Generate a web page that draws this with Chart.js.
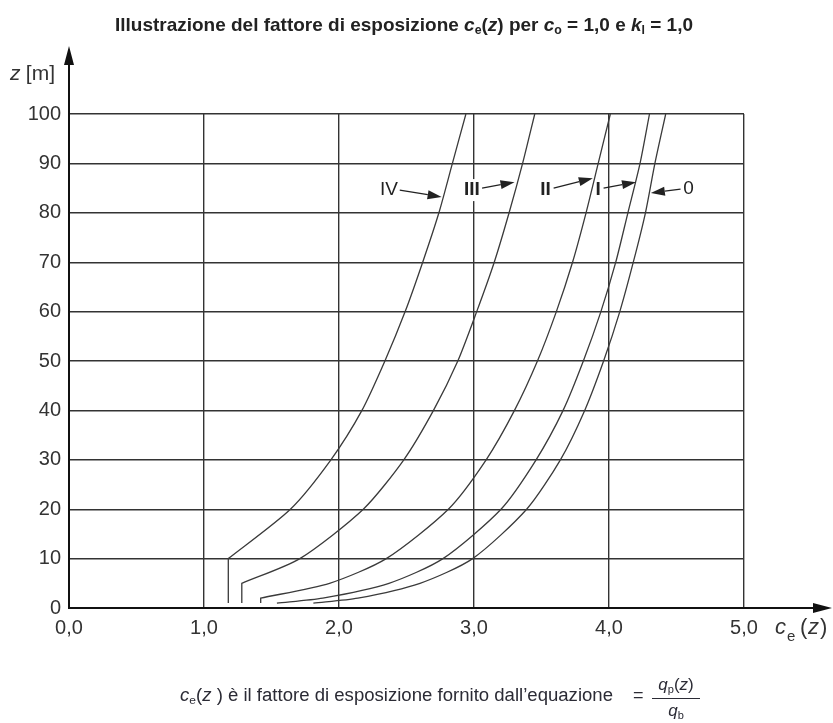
<!DOCTYPE html>
<html>
<head>
<meta charset="utf-8">
<script src="https://cdn.jsdelivr.net/npm/chart.js@4.4.1/dist/chart.umd.min.js"></script>
<style>
  body { margin: 0; background: #fff; }
  #wrap { position: relative; width: 833px; height: 723px; overflow: hidden; }
  #chart { position: absolute; left: 0; top: 0; }
  .txt { position: absolute; white-space: nowrap; color: #222; font-family: "Liberation Sans", Arial, sans-serif; transform-origin: 0 0; }
  #title { left: 115px; top: 13px; font-size: 19px; line-height: 24px; font-weight: bold; }
  #footer { left: 180px; top: 684px; font-size: 18px; line-height: 22px; color: #2b2b35; }
  #eq { left: 633px; top: 684px; font-size: 18px; line-height: 22px; color: #2b2b35; }
  #frac { left: 652px; top: 672px; width: 48px; font-size: 17px; color: #2b2b35; text-align: center; }
  #frac .num { height: 26px; line-height: 26px; border-bottom: 1px solid #2b2b35; }
  #frac .den { line-height: 24px; }
  sub { font-size: 65%; vertical-align: -0.25em; line-height: 0; }
  i { font-style: italic; }
</style>
</head>
<body>
<div id="wrap">
  <canvas id="chart" width="833" height="723"></canvas>
  <div class="txt" id="title">Illustrazione del fattore di esposizione <i>c</i><sub>e</sub>(<i>z</i>) per <i>c</i><sub>o</sub> = 1,0 e <i>k</i><sub>l</sub> = 1,0</div>
  <div class="txt" id="footer"><i>c</i><sub>e</sub>(<i>z</i> ) è il fattore di esposizione fornito dall’equazione</div>
  <div class="txt" id="eq">=</div>
  <div class="txt" id="frac"><div class="num"><i>q</i><sub>p</sub>(<i>z</i>)</div><div class="den"><i>q</i><sub>b</sub></div></div>
</div>
<script>
// terrain categories, heights z [m] and exposure factor ce(z)
const categories = ['0', 'I', 'II', 'III', 'IV'];

const z0 = [1, 2, 5, 10, 20, 30, 40, 50, 60, 70, 80, 90, 100];
const ce0 = [1.81, 2.14, 2.60, 2.99, 3.39, 3.64, 3.82, 3.96, 4.08, 4.18, 4.27, 4.34, 4.42];

const zI = [1, 2, 5, 10, 20, 30, 40, 50, 60, 70, 80, 90, 100];
const ceI = [1.54, 1.88, 2.37, 2.77, 3.20, 3.46, 3.66, 3.81, 3.94, 4.05, 4.14, 4.23, 4.30];

// the first point pair is the vertical part below z_min (corner repeated)
const zII = [1, 2, 2, 5, 10, 20, 30, 40, 50, 60, 70, 80, 90, 100];
const ceII = [1.42, 1.42, 1.42, 1.93, 2.35, 2.81, 3.09, 3.30, 3.47, 3.61, 3.73, 3.83, 3.92, 4.01];

const zIII = [1, 5, 5, 10, 20, 30, 40, 50, 60, 70, 80, 90, 100];
const ceIII = [1.28, 1.28, 1.28, 1.71, 2.18, 2.48, 2.70, 2.88, 3.02, 3.15, 3.26, 3.36, 3.45];

const zIV = [1, 10, 10, 20, 30, 40, 50, 60, 70, 80, 90, 100];
const ceIV = [1.18, 1.18, 1.18, 1.64, 1.94, 2.17, 2.34, 2.49, 2.62, 2.74, 2.84, 2.94];

const xTicks = [0, 1, 2, 3, 4, 5];
const yTicks = [0, 10, 20, 30, 40, 50, 60, 70, 80, 90, 100];

// curve labels with their arrows (data units: ce, z)
const labelPos = [[4.59, 84.8], [3.92, 84.6], [3.53, 84.6], [2.985, 84.6], [2.37, 84.6]];
const arrowFrom = [[4.53, 84.8], [3.96, 85.0], [3.59, 85.0], [3.06, 85.0], [2.45, 84.6]];
const arrowTo = [[4.31, 84.0], [4.20, 86.2], [3.88, 87.0], [3.30, 86.2], [2.76, 83.2]];

const seriesZ = [z0, zI, zII, zIII, zIV];
const seriesCe = [ce0, ceI, ceII, ceIII, ceIV];

// squeeze the narrow-font texts to the width they have in the figure
function fitWidth(id, w) {
  const el = document.getElementById(id);
  el.style.transform = 'scaleX(' + (w / el.getBoundingClientRect().width) + ')';
}
fitWidth('title', 578);
fitWidth('footer', 433);

const datasets = categories.map((name, i) => ({
  label: name,
  data: seriesZ[i].map((z, k) => ({ x: seriesCe[i][k], y: z })),
  showLine: true,
  borderColor: '#3a3a3a',
  borderWidth: 1.3,
  pointRadius: 0,
  tension: 0.25,
  fill: false
}));

const axisExtras = {
  id: 'axisExtras',
  afterDraw(chart) {
    const ctx = chart.ctx;
    const a = chart.chartArea;
    const x = chart.scales.x;
    const y = chart.scales.y;
    ctx.save();

    // axis arrows
    ctx.strokeStyle = '#111';
    ctx.fillStyle = '#111';
    ctx.lineWidth = 2;
    const topTip = a.top - 68;
    const rightTip = a.right + 88;
    ctx.beginPath();
    ctx.moveTo(a.left, a.top);
    ctx.lineTo(a.left, topTip + 12);
    ctx.moveTo(a.right, a.bottom);
    ctx.lineTo(rightTip - 12, a.bottom);
    ctx.stroke();
    ctx.beginPath();
    ctx.moveTo(a.left, topTip);
    ctx.lineTo(a.left - 5, topTip + 19);
    ctx.lineTo(a.left + 5, topTip + 19);
    ctx.closePath();
    ctx.moveTo(rightTip, a.bottom);
    ctx.lineTo(rightTip - 19, a.bottom - 5);
    ctx.lineTo(rightTip - 19, a.bottom + 5);
    ctx.closePath();
    ctx.fill();

    // axis titles
    ctx.fillStyle = '#333';
    ctx.textBaseline = 'alphabetic';
    ctx.textAlign = 'left';
    ctx.font = 'italic 21px "Liberation Sans", sans-serif';
    ctx.fillText('z', 10, 80);
    ctx.font = '21px "Liberation Sans", sans-serif';
    ctx.fillText(' [m]', 20, 80);

    ctx.font = 'italic 22px "Liberation Sans", sans-serif';
    ctx.fillText('c', 775, 634);
    ctx.font = '15px "Liberation Sans", sans-serif';
    ctx.fillText('e', 787, 641);
    ctx.font = '22px "Liberation Sans", sans-serif';
    ctx.fillText('(', 800, 634);
    ctx.font = 'italic 22px "Liberation Sans", sans-serif';
    ctx.fillText('z', 808, 634);
    ctx.font = '22px "Liberation Sans", sans-serif';
    ctx.fillText(')', 820, 634);

    // curve labels and arrows
    ctx.textAlign = 'center';
    ctx.textBaseline = 'middle';
    categories.forEach((name, i) => {
      ctx.font = (name.startsWith('I') && name !== 'IV' ? 'bold ' : '') + '19px "Liberation Sans", sans-serif';
      const lx = x.getPixelForValue(labelPos[i][0]);
      const ly = y.getPixelForValue(labelPos[i][1]);
      if (name === 'III') {
        const w = ctx.measureText(name).width;
        ctx.fillStyle = '#fff';
        ctx.fillRect(lx - w / 2 - 3, ly - 11, w + 6, 22);
      }
      ctx.fillStyle = '#222';
      ctx.fillText(name, lx, ly);

      const x1 = x.getPixelForValue(arrowFrom[i][0]);
      const y1 = y.getPixelForValue(arrowFrom[i][1]);
      const x2 = x.getPixelForValue(arrowTo[i][0]);
      const y2 = y.getPixelForValue(arrowTo[i][1]);
      const ang = Math.atan2(y2 - y1, x2 - x1);
      const len = 14, half = 4.5;
      ctx.strokeStyle = '#222';
      ctx.lineWidth = 1.2;
      ctx.beginPath();
      ctx.moveTo(x1, y1);
      ctx.lineTo(x2 - Math.cos(ang) * len, y2 - Math.sin(ang) * len);
      ctx.stroke();
      ctx.beginPath();
      ctx.moveTo(x2, y2);
      ctx.lineTo(x2 - Math.cos(ang) * len - Math.sin(ang) * half, y2 - Math.sin(ang) * len + Math.cos(ang) * half);
      ctx.lineTo(x2 - Math.cos(ang) * len + Math.sin(ang) * half, y2 - Math.sin(ang) * len - Math.cos(ang) * half);
      ctx.closePath();
      ctx.fill();
    });
    ctx.restore();
  }
};

new Chart(document.getElementById('chart').getContext('2d'), {
  type: 'scatter',
  data: { datasets },
  options: {
    responsive: false,
    animation: false,
    layout: { padding: { left: 0, top: 114, right: 89, bottom: 0 } },
    plugins: { legend: { display: false }, tooltip: { enabled: false }, title: { display: false } },
    scales: {
      x: {
        type: 'linear',
        min: 0,
        max: 5,
        afterFit(scale) { scale.height = 115; },
        afterBuildTicks(scale) { scale.ticks = xTicks.map(v => ({ value: v })); },
        grid: { color: '#333', lineWidth: 1.4, drawTicks: false },
        border: { display: true, color: '#111', width: 2 },
        ticks: {
          padding: 8,
          color: '#333',
          font: { family: 'Liberation Sans', size: 20 },
          callback: v => v.toFixed(1).replace('.', ',')
        }
      },
      y: {
        type: 'linear',
        min: 0,
        max: 100,
        afterFit(scale) { scale.width = 69; },
        afterBuildTicks(scale) { scale.ticks = yTicks.map(v => ({ value: v })); },
        grid: { color: '#333', lineWidth: 1.4, drawTicks: false },
        border: { display: true, color: '#111', width: 2 },
        ticks: {
          padding: 8,
          color: '#333',
          font: { family: 'Liberation Sans', size: 20 },
          callback: v => String(v)
        }
      }
    }
  },
  plugins: [axisExtras]
});
</script>
</body>
</html>
